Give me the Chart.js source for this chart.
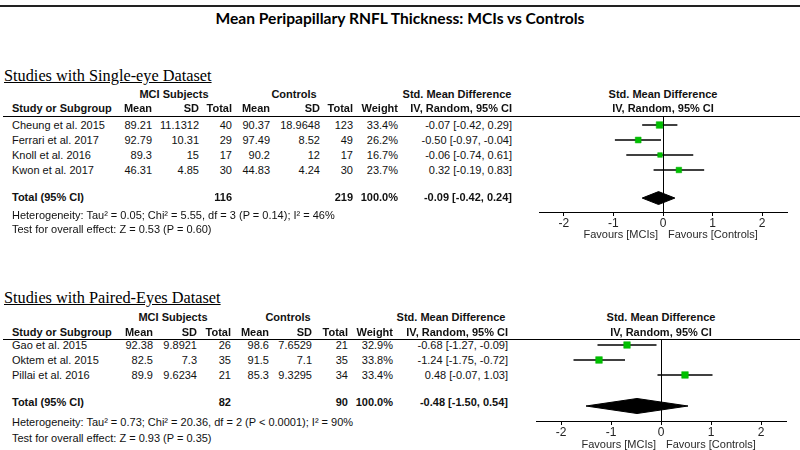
<!DOCTYPE html>
<html>
<head>
<meta charset="utf-8">
<script src="https://cdn.jsdelivr.net/npm/chart.js@4.4.0/dist/chart.umd.min.js"></script>
<style>
  html, body { margin: 0; padding: 0; background: #fff; }
  #page { position: relative; width: 800px; height: 450px; overflow: hidden;
          font-family: "Liberation Sans", Arial, sans-serif; font-size: 11px; color: #111; }
  .t { position: absolute; white-space: nowrap; line-height: 13px; z-index: 2; }
  .b { font-weight: bold; }
  .title { font-family: Lato, "Open Sans", sans-serif; font-weight: bold; font-size: 15.6px; line-height: 18px; color: #000; }
  .sec { font-family: "Liberation Serif", "Times New Roman", serif; font-size: 16.3px; line-height: 20px; text-decoration: underline; color: #000; }
  .fav { color: #2a2a2a; }
  .hline { position: absolute; left: 3px; right: 0; height: 1px; background: #000; }
  canvas { position: absolute; z-index: 1; }
</style>
</head>
<body>
<div id="page">
  <div class="hline" style="top:5px; left:0; height:2px; background:#222;"></div>
  <div class="hline" style="top:116px;"></div>
  <div class="hline" style="top:339px;"></div>
  <canvas id="plot1" width="270" height="130" style="left:530px; top:110px;"></canvas>
  <canvas id="plot2" width="274" height="116" style="left:526px; top:333px;"></canvas>
</div>
<script>
const chartTitle = 'Mean Peripapillary RNFL Thickness: MCIs vs Controls';

// single-eye dataset
const studies1 = ['Cheung et al. 2015', 'Ferrari et al. 2017', 'Knoll et al. 2016', 'Kwon et al. 2017'];
const mciMean1 = [89.21, 92.79, 89.3, 46.31];
const mciSd1 = [11.1312, 10.31, 15, 4.85];
const mciN1 = [40, 29, 17, 30];
const ctlMean1 = [90.37, 97.49, 90.2, 44.83];
const ctlSd1 = [18.9648, 8.52, 12, 4.24];
const ctlN1 = [123, 49, 17, 30];
const weight1 = [33.4, 26.2, 16.7, 23.7];
const smd1 = [-0.07, -0.50, -0.06, 0.32];
const lo1 = [-0.42, -0.97, -0.74, -0.19];
const hi1 = [0.29, -0.04, 0.61, 0.83];
const total1 = [116, 219, 100.0];
const totalSmd1 = [-0.09, -0.42, 0.24];
const het1 = 'Heterogeneity: Tau² = 0.05; Chi² = 5.55, df = 3 (P = 0.14); I² = 46%';
const test1 = 'Test for overall effect: Z = 0.53 (P = 0.60)';

// paired-eyes dataset
const studies2 = ['Gao et al. 2015', 'Oktem et al. 2015', 'Pillai et al. 2016'];
const mciMean2 = [92.38, 82.5, 89.9];
const mciSd2 = [9.8921, 7.3, 9.6234];
const mciN2 = [26, 35, 21];
const ctlMean2 = [98.6, 91.5, 85.3];
const ctlSd2 = [7.6529, 7.1, 9.3295];
const ctlN2 = [21, 35, 34];
const weight2 = [32.9, 33.8, 33.4];
const smd2 = [-0.68, -1.24, 0.48];
const lo2 = [-1.27, -1.75, -0.07];
const hi2 = [-0.09, -0.72, 1.03];
const total2 = [82, 90, 100.0];
const totalSmd2 = [-0.48, -1.50, 0.54];
const het2 = 'Heterogeneity: Tau² = 0.73; Chi² = 20.36, df = 2 (P < 0.0001); I² = 90%';
const test2 = 'Test for overall effect: Z = 0.93 (P = 0.35)';

const axisTicks = [-2, -1, 0, 1, 2];
const headers = ['Mean', 'SD', 'Total', 'Mean', 'SD', 'Total', 'Weight', 'IV, Random, 95% CI'];

const page = document.getElementById('page');

function put(x, y, s, align, cls) {
  const d = document.createElement('div');
  d.className = 't ' + (cls || '');
  d.textContent = s;
  page.appendChild(d);
  const h = parseFloat(getComputedStyle(d).lineHeight);
  d.style.top = (y - h / 2) + 'px';
  if (align === 'right') d.style.right = (800 - x) + 'px';
  else if (align === 'center') { d.style.left = (x - 200) + 'px'; d.style.width = '400px'; d.style.textAlign = 'center'; }
  else d.style.left = x + 'px';
}

const ci = (m, l, h) => m.toFixed(2) + ' [' + l.toFixed(2) + ', ' + h.toFixed(2) + ']';

function table(sec, rows, cols, L) {
  put(4, L.head, sec.title, 'left', 'sec');
  put(L.mciC, L.h1, 'MCI Subjects', 'center', 'b');
  put(L.ctlC, L.h1, 'Controls', 'center', 'b');
  put(L.smdC, L.h1, 'Std. Mean Difference', 'center', 'b');
  put(L.plotC, L.h1, 'Std. Mean Difference', 'center', 'b');
  put(12, L.h2, 'Study or Subgroup', 'left', 'b');
  headers.forEach((h, k) => put(cols[k], L.h2, h, 'right', 'b'));
  put(L.plotC, L.h2, 'IV, Random, 95% CI', 'center', 'b');
  rows.study.forEach((s, i) => {
    const y = L.row0 + 15 * i;
    const cells = [rows.mMean[i], rows.mSd[i], rows.mN[i], rows.cMean[i], rows.cSd[i], rows.cN[i],
                   rows.w[i].toFixed(1) + '%', ci(rows.smd[i], rows.lo[i], rows.hi[i])];
    put(12, y, s, 'left');
    cells.forEach((c, k) => put(cols[k], y, String(c), 'right'));
  });
  put(12, L.tot, 'Total (95% CI)', 'left', 'b');
  put(cols[2], L.tot, String(rows.total[0]), 'right', 'b');
  put(cols[5], L.tot, String(rows.total[1]), 'right', 'b');
  put(cols[6], L.tot, rows.total[2].toFixed(1) + '%', 'right', 'b');
  put(cols[7], L.tot, ci(rows.tSmd[0], rows.tSmd[1], rows.tSmd[2]), 'right', 'b');
  put(12, L.het, sec.het, 'left');
  put(12, L.test, sec.test, 'left');
  put(L.plotC - 5, L.fav, 'Favours [MCIs]', 'right', 'fav');
  put(L.plotC + 5, L.fav, 'Favours [Controls]', 'left', 'fav');
}

function forest(id, smd, lo, hi, weight, tSmd, P) {
  const datasets = [{
    type: 'scatter',
    data: smd.map((v, i) => ({ x: v, y: i })),
    pointStyle: 'rect',
    pointRadius: weight.map(w => 0.81 * Math.sqrt(w)),
    backgroundColor: '#00c000',
    borderColor: '#00b000',
    borderWidth: 0.5,
    order: 0
  }];
  lo.forEach((l, i) => datasets.push({
    type: 'line',
    data: [{ x: l, y: i }, { x: hi[i], y: i }],
    borderColor: '#000', borderWidth: 1.4, pointRadius: 0, order: 1
  }));
  datasets.push({
    type: 'line',
    data: [{ x: tSmd[1], y: P.dRow }, { x: tSmd[0], y: P.dRow - P.dHalf }, { x: tSmd[2], y: P.dRow },
           { x: tSmd[0], y: P.dRow + P.dHalf }, { x: tSmd[1], y: P.dRow }],
    borderColor: '#000', borderWidth: 1, backgroundColor: '#000', fill: 'shape',
    pointRadius: 0, tension: 0, order: 1
  });
  return new Chart(document.getElementById(id), {
    type: 'scatter',
    data: { datasets: datasets },
    options: {
      responsive: false,
      animation: false,
      events: [],
      layout: { padding: P.pad },
      plugins: { legend: { display: false }, tooltip: { enabled: false } },
      scales: {
        x: {
          type: 'linear', min: -2.5, max: 2.5,
          afterBuildTicks: s => { s.ticks = axisTicks.map(v => ({ value: v })); },
          afterFit: s => { s.height = 28; },
          border: { display: true, color: '#000', width: 1 },
          grid: {
            color: c => (c.tick && c.tick.value === 0) ? '#000' : 'rgba(0,0,0,0)',
            drawOnChartArea: true, drawTicks: true, tickLength: 4, tickColor: '#000'
          },
          ticks: { padding: 0, color: '#222', font: { family: 'Liberation Sans', size: 12 },
                   callback: v => String(v) }
        },
        y: { type: 'linear', display: false, reverse: true, min: P.yMin, max: P.yMax }
      }
    }
  });
}

put(400, 18, chartTitle, 'center', 'title');

table({ title: 'Studies with Single-eye Dataset', het: het1, test: test1 },
  { study: studies1, mMean: mciMean1, mSd: mciSd1, mN: mciN1, cMean: ctlMean1, cSd: ctlSd1, cN: ctlN1,
    w: weight1, smd: smd1, lo: lo1, hi: hi1, total: total1, tSmd: totalSmd1 },
  [152, 199, 232, 270, 320, 353, 398, 512],
  { head: 76, h1: 94, h2: 108, row0: 125, tot: 197, het: 215, test: 229, fav: 234,
    mciC: 174, ctlC: 294, smdC: 457, plotC: 663 });

table({ title: 'Studies with Paired-Eyes Dataset', het: het2, test: test2 },
  { study: studies2, mMean: mciMean2, mSd: mciSd2, mN: mciN2, cMean: ctlMean2, cSd: ctlSd2, cN: ctlN2,
    w: weight2, smd: smd2, lo: lo2, hi: hi2, total: total2, tSmd: totalSmd2 },
  [153, 197, 231, 269, 312, 348, 393, 508],
  { head: 298, h1: 317, h2: 332, row0: 345, tot: 402, het: 422, test: 438, fav: 444,
    mciC: 173, ctlC: 288, smdC: 451, plotC: 661 });

forest('plot1', smd1, lo1, hi1, weight1, totalSmd1,
  { pad: { left: 9, right: 13, top: 6, bottom: 0 }, yMin: -0.6, yMax: 5.8, dRow: 4.87, dHalf: 0.43 });
forest('plot2', smd2, lo2, hi2, weight2, totalSmd2,
  { pad: { left: 10, right: 14, top: 6, bottom: 0 }, yMin: -0.4, yMax: 5.07, dRow: 4.07, dHalf: 0.5 });
</script>
</body>
</html>
